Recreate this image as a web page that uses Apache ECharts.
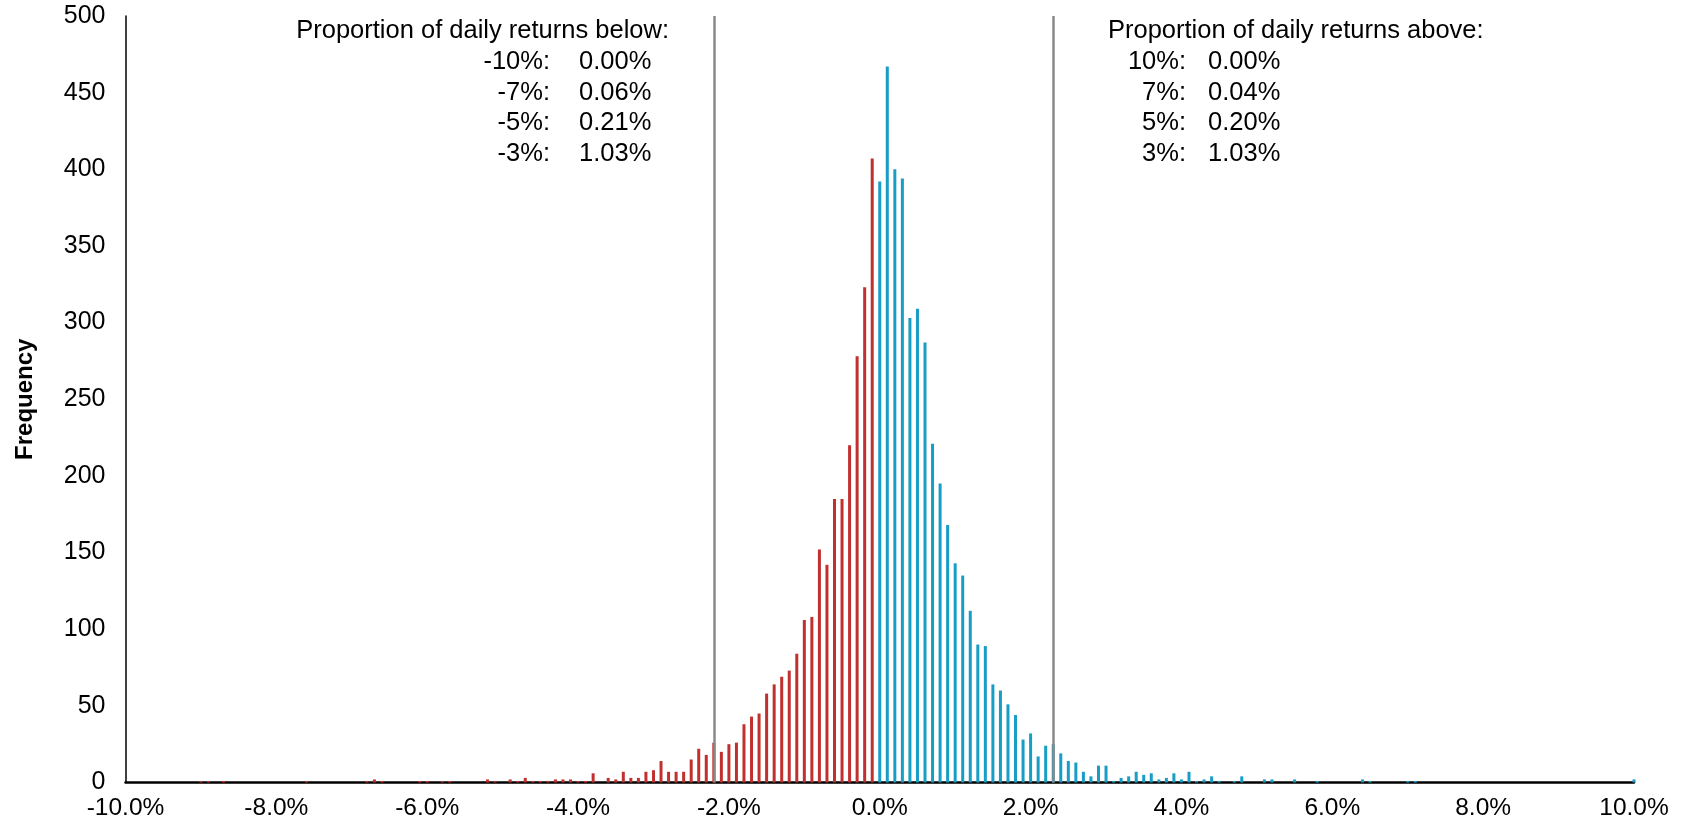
<!DOCTYPE html>
<html>
<head>
<meta charset="utf-8">
<script src="https://cdn.jsdelivr.net/npm/echarts@6/dist/echarts.min.js"></script>
<style>
html,body{margin:0;padding:0;background:#fff;}
#chart{width:1682px;height:831px;}
</style>
</head>
<body>
<div id="chart"></div>
<script>
// Bin labels: daily return bins from -10.0% to 10.0% in 0.1% steps
const binStarts = [];
for (let i = -100; i <= 100; i++) binStarts.push((i / 10).toFixed(1) + '%');

// Frequency per bin
const frequency = [
  0,0,0,0,0,0,0,0,0,0,
  1,1,0,1,0,0,0,0,0,0,
  0,0,0,0,1,0,0,0,0,0,
  0,0,1,2,1,0,0,0,0,1,
  1,0,1,1,0,0,0,0,2,1,
  0,2,1,3,1,1,1,2,2,2,
  1,1,6,0,3,2,7,3,3,7,
  8,14,7,7,7,15,22,18,26,20,
  25,26,38,43,45,58,64,69,73,84,
  106,108,152,142,185,185,220,278,323,407,
  392,467,400,394,303,309,287,221,195,168,
  143,135,112,90,89,64,60,51,44,28,
  32,17,24,25,19,14,13,7,4,11,
  11,1,3,4,7,5,6,2,3,6,
  2,7,1,2,4,1,0,1,4,0,
  0,2,2,0,0,2,0,0,1,0,
  0,0,0,0,2,1,0,0,0,0,
  1,1,0,0,0,0,0,0,0,0,
  0,0,0,0,0,0,0,0,0,0,
  0,0,0,0,0,0,0,0,0,0,
  2
];

// Threshold markers
const markerBins = ['-2.2%', '2.3%'];

// Text blocks
const belowTitle = 'Proportion of daily returns below:';
const belowLabels = ['-10%:', '-7%:', '-5%:', '-3%:'];
const belowValues = ['0.00%', '0.06%', '0.21%', '1.03%'];
const aboveTitle = 'Proportion of daily returns above:';
const aboveLabels = ['10%:', '7%:', '5%:', '3%:'];
const aboveValues = ['0.00%', '0.04%', '0.20%', '1.03%'];

const FONT = '"Liberation Sans", Arial, sans-serif';
const RED = '#C0302E';
const BLUE = '#179DC6';

const chart = echarts.init(document.getElementById('chart'), null, {renderer: 'canvas'});

const textStyle = (extra) => Object.assign({fontFamily: FONT, fontSize: 25.5, fill: '#000'}, extra);
const graphics = [];
graphics.push({type: 'text', x: 669, y: 18, style: textStyle({text: belowTitle, align: 'right'})});
graphics.push({type: 'text', x: 1108, y: 18, style: textStyle({text: aboveTitle, align: 'left'})});
for (let i = 0; i < 4; i++) {
  const y = 49 + i * 30.5;
  graphics.push({type: 'text', x: 550, y: y, style: textStyle({text: belowLabels[i], align: 'right'})});
  graphics.push({type: 'text', x: 579, y: y, style: textStyle({text: belowValues[i], align: 'left'})});
  graphics.push({type: 'text', x: 1186, y: y, style: textStyle({text: aboveLabels[i], align: 'right'})});
  graphics.push({type: 'text', x: 1208, y: y, style: textStyle({text: aboveValues[i], align: 'left'})});
}

chart.setOption({
  animation: false,
  backgroundColor: '#fff',
  grid: {left: 125.5, right: 48, top: 16, bottom: 48.5, containLabel: false},
  xAxis: {
    type: 'category',
    data: binStarts,
    boundaryGap: false,
    axisLine: {show: true, lineStyle: {color: '#000', width: 2.5}},
    axisTick: {show: false},
    axisLabel: {interval: 19, color: '#000', fontFamily: FONT, fontSize: 24.5, margin: 13, showMinLabel: true, showMaxLabel: true},
    splitLine: {show: false}
  },
  yAxis: {
    type: 'value',
    min: 0, max: 500, interval: 50,
    name: 'Frequency',
    nameLocation: 'middle',
    nameGap: 88,
    nameTextStyle: {color: '#000', fontFamily: FONT, fontSize: 24, fontWeight: 'bold'},
    axisLine: {show: true, lineStyle: {color: '#000', width: 1.5}},
    axisTick: {show: false},
    axisLabel: {color: '#000', fontFamily: FONT, fontSize: 25, margin: 20},
    splitLine: {show: false}
  },
  series: [
    {
      type: 'line',
      data: [],
      z: 1,
      silent: true,
      markLine: {
        symbol: 'none',
        silent: true,
        label: {show: false},
        lineStyle: {color: '#8a8a8a', width: 2.5, type: 'solid'},
        data: markerBins.map(b => ({xAxis: b}))
      }
    },
    {
      type: 'bar',
      z: 3,
      barWidth: 3,
      data: frequency,
      itemStyle: {
        color: (p) => (p.dataIndex < 100 ? RED : BLUE)
      }
    }
  ],
  graphic: graphics
});
</script>
</body>
</html>
